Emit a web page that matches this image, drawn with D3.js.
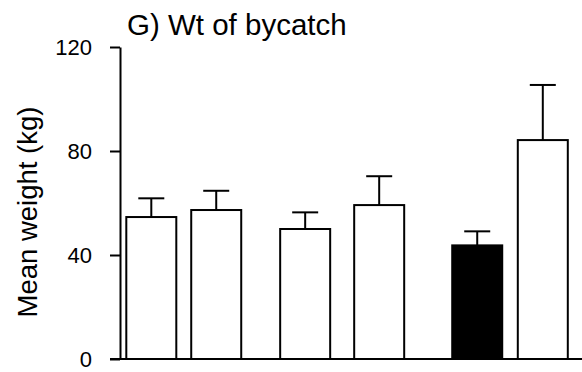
<!DOCTYPE html>
<html>
<head>
<meta charset="utf-8">
<script src="https://cdn.jsdelivr.net/npm/d3@7"></script>
<style>
  html, body { margin: 0; padding: 0; background: #fff; }
  svg { display: block; font-family: "Liberation Sans", Arial, Helvetica, sans-serif; }
</style>
</head>
<body>
<svg id="chart" width="582" height="372"></svg>
<script>
// Mean bycatch weight per treatment, with the upper error bar (mean + SE)
const categories = ["A1", "A2", "B1", "B2", "C1", "C2"];
const means = [54.6, 57.3, 50.0, 59.2, 43.7, 84.2];
const upper = [61.8, 64.7, 56.4, 70.3, 49.1, 105.4];
const filled = [false, false, false, false, true, false];
const yTicks = [0, 40, 80, 120];

// Bars are plotted in pairs; slot holds each bar's centre along the x scale
const slot = [0, 1, 2.37, 3.51, 5.02, 6.03];

const svg = d3.select("#chart");
const x = d3.scaleLinear().domain([0, 6.03]).range([151.3, 542.8]);
const y = d3.scaleLinear().domain([0, 120]).range([359, 47]);
const barW = 50;
const capW = 26;

// Title
svg.append("text")
  .attr("x", 127).attr("y", 35)
  .attr("font-size", 29.5)
  .attr("fill", "#000")
  .text("G) Wt of bycatch");

// Y axis title
svg.append("text")
  .attr("transform", "translate(37," + 212 + ") rotate(-90)")
  .attr("text-anchor", "middle")
  .attr("font-size", 27.5)
  .attr("fill", "#000")
  .text("Mean weight (kg)");

// Y axis
const yAxis = d3.axisLeft(y).tickValues(yTicks).tickSize(10).tickPadding(18).tickSizeOuter(0);
const gy = svg.append("g").attr("transform", "translate(120,0)").call(yAxis);
gy.select(".domain").attr("stroke", "#000").attr("stroke-width", 2);
gy.selectAll(".tick line").attr("stroke", "#000").attr("stroke-width", 2);
gy.selectAll(".tick text").attr("font-size", 22).attr("fill", "#000")
  .attr("font-family", "'Liberation Sans', Arial, sans-serif");

// Error bars (upper only)
const bars = svg.append("g");
categories.forEach((c, i) => {
  const cx = x(slot[i]);
  bars.append("line")
    .attr("x1", cx).attr("x2", cx)
    .attr("y1", y(means[i])).attr("y2", y(upper[i]))
    .attr("stroke", "#000").attr("stroke-width", 2);
  bars.append("line")
    .attr("x1", cx - capW / 2).attr("x2", cx + capW / 2)
    .attr("y1", y(upper[i])).attr("y2", y(upper[i]))
    .attr("stroke", "#000").attr("stroke-width", 2);
});

// Bars
bars.selectAll("rect")
  .data(categories)
  .join("rect")
  .attr("x", (d, i) => x(slot[i]) - barW / 2)
  .attr("y", (d, i) => y(means[i]))
  .attr("width", barW)
  .attr("height", (d, i) => y(0) - y(means[i]))
  .attr("fill", (d, i) => filled[i] ? "#000" : "#fff")
  .attr("stroke", "#000")
  .attr("stroke-width", 2);

// X baseline
svg.append("line")
  .attr("x1", 110).attr("x2", 582)
  .attr("y1", y(0)).attr("y2", y(0))
  .attr("stroke", "#000").attr("stroke-width", 2);
</script>
</body>
</html>
